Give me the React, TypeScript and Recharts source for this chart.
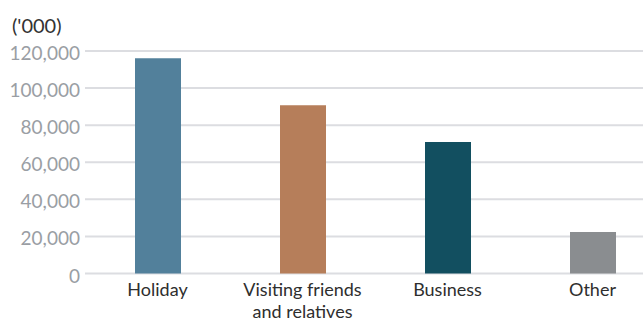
import { BarChart, Bar, XAxis, YAxis, CartesianGrid, Cell, Text } from 'recharts';

const categories = ['Holiday', 'Visiting friends and relatives', 'Business', 'Other'];
const visitors = [116100, 90800, 70900, 22400];
const barColors = ['#52809b', '#b67e5a', '#124f60', '#8a8d90'];
const yTicks = [0, 20000, 40000, 60000, 80000, 100000, 120000];

const chartData = categories.map((name, i) => ({ name, value: visitors[i] }));

const FONT = 'Lato, "Open Sans", sans-serif';

function YTick(props: any) {
  const { x, y, payload } = props;
  return (
    <text x={x} y={y} dy={9} textAnchor="end" fill="#9a9ea4" fontSize={19} fontFamily={FONT}>
      {payload.value.toLocaleString('en-US')}
    </text>
  );
}

function XTick(props: any) {
  const { x, y, payload } = props;
  return (
    <Text
      x={x}
      y={y}
      dy={2}
      width={130}
      textAnchor="middle"
      verticalAnchor="start"
      lineHeight="22px"
      fill="#2e2e2e"
      style={{ fontSize: 18, fontFamily: FONT }}
    >
      {payload.value}
    </Text>
  );
}

export default function App() {
  return (
    <div
      style={{
        position: 'absolute',
        left: 0,
        top: 0,
        width: 643,
        height: 320,
        overflow: 'hidden',
        background: '#fff',
        fontFamily: FONT,
      }}
    >
      <div
        style={{
          position: 'absolute',
          left: 12,
          top: 14,
          fontSize: 20,
          lineHeight: '22px',
          color: '#333',
        }}
      >
        ('000)
      </div>
      <BarChart
        width={665}
        height={320}
        data={chartData}
        margin={{ top: 51, right: 0, bottom: 0, left: 0 }}
      >
        <CartesianGrid vertical={false} stroke="#dcdde1" strokeWidth={2} />
        <XAxis
          dataKey="name"
          height={46.5}
          axisLine={false}
          tickLine={false}
          tick={<XTick />}
          interval={0}
        />
        <YAxis
          width={85}
          domain={[0, 120000]}
          ticks={yTicks}
          axisLine={false}
          tickLine={false}
          tickSize={0}
          tickMargin={5}
          tick={<YTick />}
        />
        <Bar dataKey="value" barSize={46} isAnimationActive={false}>
          {chartData.map((_, i) => (
            <Cell key={i} fill={barColors[i]} />
          ))}
        </Bar>
      </BarChart>
    </div>
  );
}
